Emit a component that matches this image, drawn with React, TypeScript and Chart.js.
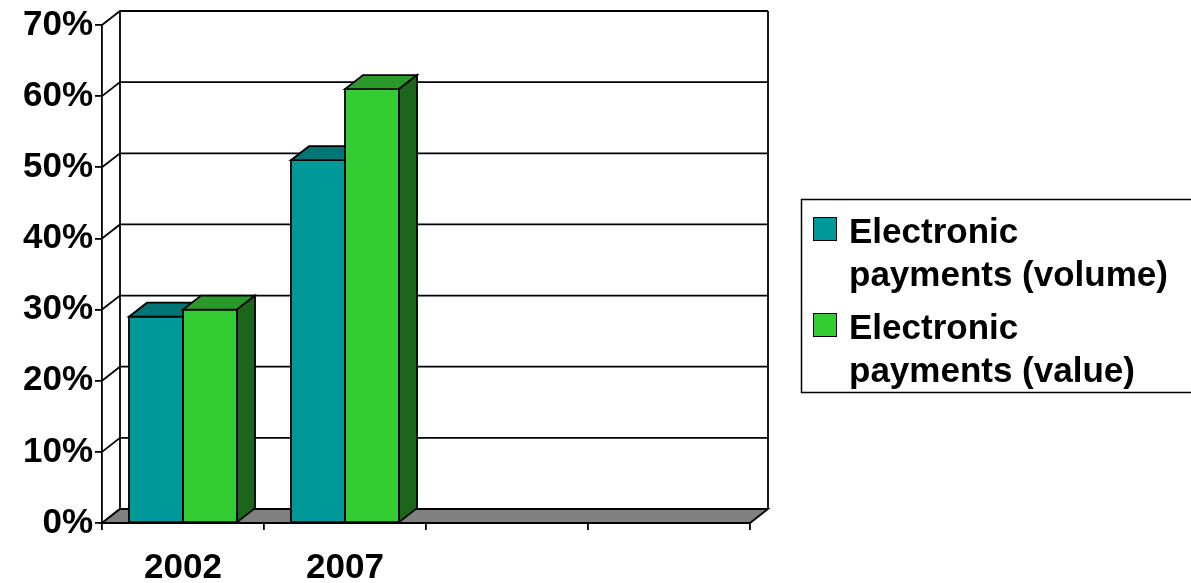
import React, { useEffect, useRef } from "react";
import { Chart, registerables } from "chart.js";

Chart.register(...registerables);

const categories = ["2002", "2007", "", ""];
const volumeValues = [29, 51, null, null];
const valueValues = [30, 61, null, null];
const seriesLabels = ["Electronic payments (volume)", "Electronic payments (value)"];
const legendLines = [
  ["Electronic", "payments (volume)"],
  ["Electronic", "payments (value)"],
];
const yMin = 0;
const yMax = 70;
const yStep = 10;

const FONT = "'Liberation Sans', Arial, sans-serif";
const DX = 18;
const DY = 14;

const frontColors = ["#009999", "#33CC33"];
const topColors = ["#007575", "#299929"];
const sideColors = ["#006060", "#1C661C"];

const threeD = {
  id: "threeD",
  beforeDatasetsDraw(chart: any) {
    const { ctx, chartArea } = chart;
    const { left, right, top, bottom } = chartArea;
    const ys = chart.scales.y;
    ctx.save();
    ctx.strokeStyle = "#000";
    ctx.lineWidth = 1.8;
    ctx.beginPath();
    ctx.moveTo(left + DX, top - DY);
    ctx.lineTo(left + DX, bottom - DY);
    ctx.moveTo(right + DX, top - DY);
    ctx.lineTo(right + DX, bottom - DY);
    for (let v = yMin; v <= yMax; v += yStep) {
      const yy = ys.getPixelForValue(v);
      ctx.moveTo(left, yy);
      ctx.lineTo(left + DX, yy - DY);
      ctx.lineTo(right + DX, yy - DY);
    }
    ctx.stroke();
    ctx.beginPath();
    ctx.moveTo(left, bottom);
    ctx.lineTo(right, bottom);
    ctx.lineTo(right + DX, bottom - DY);
    ctx.lineTo(left + DX, bottom - DY);
    ctx.closePath();
    ctx.fillStyle = "#808080";
    ctx.fill();
    ctx.stroke();
    ctx.restore();
  },
  afterDatasetsDraw(chart: any) {
    const { ctx } = chart;
    ctx.save();
    ctx.strokeStyle = "#000";
    ctx.lineWidth = 1.8;
    ctx.lineJoin = "miter";
    const n = chart.data.labels.length;
    for (let i = 0; i < n; i++) {
      chart.data.datasets.forEach((ds: any, d: number) => {
        const v = ds.data[i];
        if (v === null || v === undefined) return;
        const el = chart.getDatasetMeta(d).data[i];
        const { x, y, width, base } = el.getProps(["x", "y", "width", "base"], true);
        const l = x - width / 2;
        const r = x + width / 2;
        ctx.beginPath();
        ctx.rect(l, y, r - l, base - y);
        ctx.fillStyle = frontColors[d];
        ctx.fill();
        ctx.stroke();
        ctx.beginPath();
        ctx.moveTo(l, y);
        ctx.lineTo(r, y);
        ctx.lineTo(r + DX, y - DY);
        ctx.lineTo(l + DX, y - DY);
        ctx.closePath();
        ctx.fillStyle = topColors[d];
        ctx.fill();
        ctx.stroke();
        ctx.beginPath();
        ctx.moveTo(r, y);
        ctx.lineTo(r + DX, y - DY);
        ctx.lineTo(r + DX, base - DY);
        ctx.lineTo(r, base);
        ctx.closePath();
        ctx.fillStyle = sideColors[d];
        ctx.fill();
        ctx.stroke();
      });
    }
    ctx.restore();
  },
  afterDraw(chart: any) {
    const { ctx } = chart;
    ctx.save();
    ctx.strokeStyle = "#000";
    ctx.lineWidth = 1.5;
    ctx.strokeRect(801.5, 199.5, 400, 193);
    ctx.font = `bold 35px ${FONT}`;
    ctx.textBaseline = "alphabetic";
    ctx.textAlign = "left";
    const itemTop = [217, 313];
    legendLines.forEach((lines, d) => {
      const t = itemTop[d];
      ctx.fillStyle = frontColors[d];
      ctx.fillRect(813, t, 24, 24);
      ctx.lineWidth = 1;
      ctx.strokeRect(813.5, t + 0.5, 23, 23);
      ctx.fillStyle = "#000";
      lines.forEach((s, k) => {
        ctx.fillText(s, 849, t + 26 + k * 43);
      });
    });
    ctx.restore();
  },
};

export default function App() {
  const ref = useRef<HTMLCanvasElement>(null);
  useEffect(() => {
    if (!ref.current) return;
    const chart = new Chart(ref.current, {
      type: "bar",
      data: {
        labels: categories,
        datasets: [
          { label: seriesLabels[0], data: volumeValues, backgroundColor: frontColors[0], borderWidth: 0 },
          { label: seriesLabels[1], data: valueValues, backgroundColor: frontColors[1], borderWidth: 0 },
        ],
      },
      options: {
        responsive: false,
        animation: false,
        devicePixelRatio: 1,
        layout: { padding: { left: 0, top: 25, right: 441, bottom: 0 } },
        plugins: { legend: { display: false }, tooltip: { enabled: false } },
        datasets: { bar: { categoryPercentage: 0.667, barPercentage: 1 } },
        scales: {
          x: {
            grid: { display: true, drawOnChartArea: false, drawTicks: true, tickLength: 7, color: "#000", lineWidth: 1.8, offset: true },
            border: { display: true, color: "#000", width: 1.8 },
            ticks: { color: "#000", font: { family: FONT, size: 35, weight: "bold" }, padding: 17, maxRotation: 0, autoSkip: false },
            afterFit: (s: any) => { s.height = 60; },
          },
          y: {
            min: yMin,
            max: yMax,
            grid: { display: true, drawOnChartArea: false, drawTicks: true, tickLength: 7, color: "#000", lineWidth: 1.8 },
            border: { display: true, color: "#000", width: 1.8 },
            ticks: { stepSize: yStep, color: "#000", font: { family: FONT, size: 35, weight: "bold" }, padding: 2, callback: (v: any) => v + "%" },
            afterFit: (s: any) => { s.width = 102; },
          },
        },
      },
      plugins: [threeD],
    });
    return () => chart.destroy();
  }, []);
  return (
    <div style={{ position: "absolute", left: 0, top: 0, width: 1191, height: 583, background: "#fff" }}>
      <canvas ref={ref} width={1191} height={583} />
    </div>
  );
}
